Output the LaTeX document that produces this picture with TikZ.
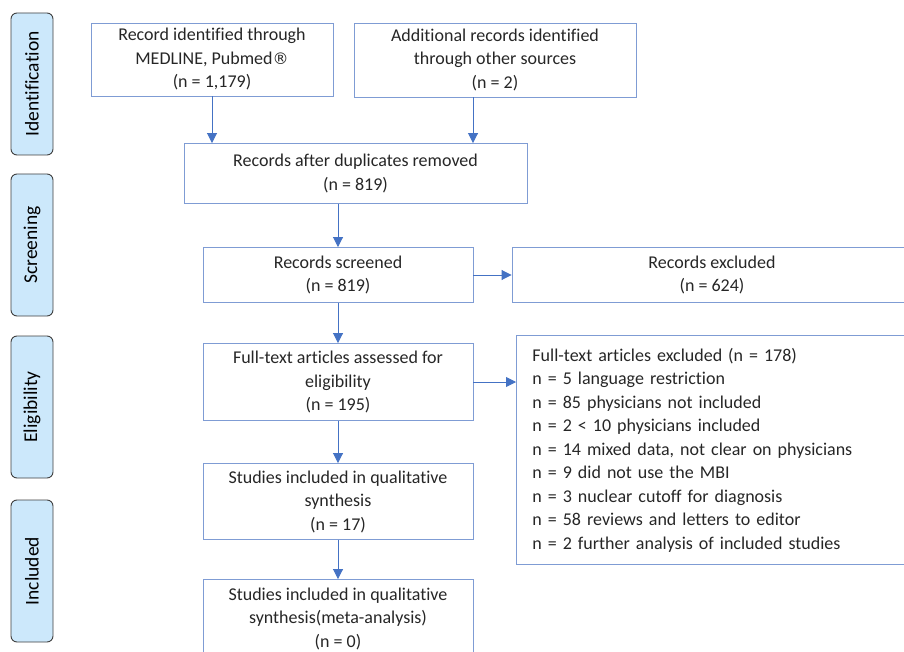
\documentclass[tikz,border=0pt]{standalone}
\usepackage{fontspec}
\setmainfont{Carlito}[RawFeature=-liga]
\newfontfamily\symfont{DejaVu Sans}
\usetikzlibrary{arrows.meta}
\definecolor{boxline}{HTML}{7F9CD4}
\definecolor{arrowblue}{HTML}{4472C4}
\definecolor{phasefill}{HTML}{CCE8FB}
\definecolor{phaseline}{HTML}{3F3F3F}
\definecolor{txt}{HTML}{262626}
\tikzset{
    flowbox/.style={draw=boxline,line width=0.9pt,align=center,text=txt,inner sep=2pt,
        font=\fontsize{18}{23.5}\selectfont},
    phase/.style={draw=phaseline,fill=phasefill,rounded corners=6pt,line width=0.9pt,rotate=90,
        minimum width=142pt,minimum height=42pt,text=black,font=\fontsize{19.5}{22}\selectfont},
    arr/.style={-{Triangle[width=10pt,length=10pt]},draw=arrowblue,line width=0.9pt,arrowblue}
}
\begin{document}
\begin{tikzpicture}[x=1pt,y=-1pt]
    \useasboundingbox (0,0) rectangle (904,652);
    \clip (0,0) rectangle (904,652);

    % phases
    \node[phase] (ident) at (32,84) {Identification};
    \node[phase] (screen) at (32,245) {Screening};
    \node[phase] (elig) at (32,407) {Eligibility};
    \node[phase] (incl) at (32,571) {Included};

    % boxes
    \node[flowbox,minimum width=242pt,minimum height=73pt] (medline) at (212,59.5)
        {Record identified through\\MEDLINE, Pubmed{\symfont\fontsize{16}{16}\selectfont ®}\\(n = 1,179)};
    \node[flowbox,minimum width=282pt,minimum height=74pt] (other) at (495,60)
        {Additional records identified\\through other sources\\(n = 2)};
    \node[flowbox,minimum width=343pt,minimum height=60pt] (dupl) at (355.5,173.5)
        {Records after duplicates removed\\(n = 819)};
    \node[flowbox,minimum width=270pt,minimum height=55pt] (screened) at (338,275)
        {Records screened\\(n = 819)};
    \node[flowbox,minimum width=400pt,minimum height=55pt] (excl) at (712,275)
        {Records excluded\\(n = 624)};
    \node[flowbox,minimum width=270pt,minimum height=77pt] (fulltext) at (338,382)
        {Full-text articles assessed for\\eligibility\\(n = 195)};
    \node[flowbox,anchor=north west,minimum width=440pt,minimum height=229pt,align=left,
        text width=420pt,inner xsep=16pt] (ftexcl) at (516,335)
        {Full-text articles excluded (n = 178)\\
         n = 5 language restriction\\
         n = 85 physicians not included\\
         n = 2 < 10 physicians included\\
         n = 14 mixed data, not clear on physicians\\
         n = 9 did not use the MBI\\
         n = 3 nuclear cutoff for diagnosis\\
         n = 58 reviews and letters to editor\\
         n = 2 further analysis of included studies};
    \node[flowbox,minimum width=270pt,minimum height=76pt] (qual) at (338,501.5)
        {Studies included in qualitative\\synthesis\\(n = 17)};
    \node[flowbox,minimum width=270pt,minimum height=78pt] (meta) at (338,618.5)
        {Studies included in qualitative\\synthesis(meta-analysis)\\(n = 0)};

    % arrows
    \draw[arr] (medline.south) -- (medline.south |- dupl.north);
    \draw[arr] ([xshift=-22pt]other.south) -- ([xshift=-22pt]other.south |- dupl.north);
    \draw[arr] (dupl.south -| screened.north) -- (screened.north);
    \draw[arr] (screened.east) -- (excl.west);
    \draw[arr] (screened.south) -- (fulltext.north);
    \draw[arr] (fulltext.east) -- (fulltext.east -| ftexcl.west);
    \draw[arr] (fulltext.south) -- (qual.north);
    \draw[arr] (qual.south) -- (meta.north);
\end{tikzpicture}
\end{document}
